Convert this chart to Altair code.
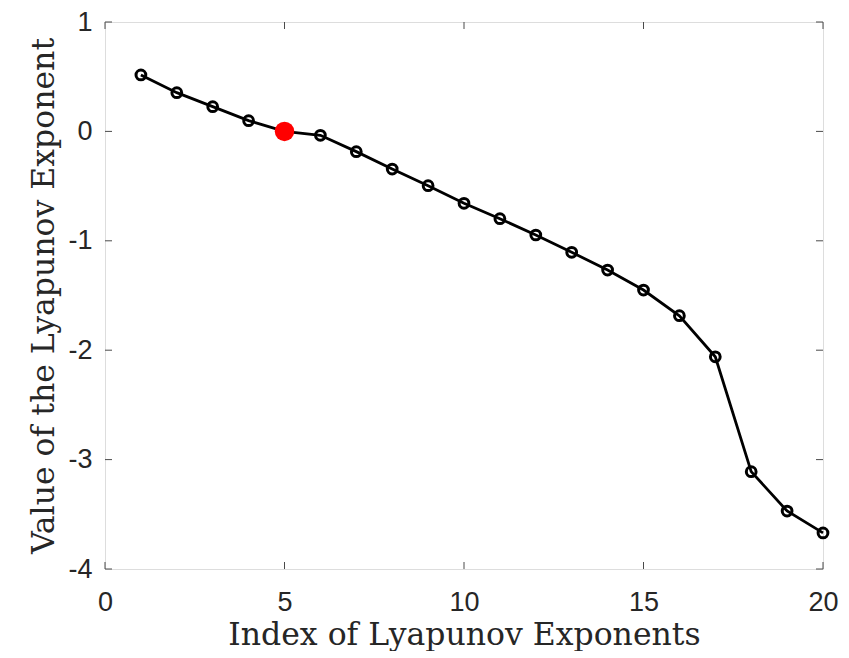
import altair as alt
import pandas as pd

idx = list(range(1, 21))
vals = [0.516, 0.354, 0.226, 0.098, 0.0, -0.036, -0.185, -0.344, -0.496, -0.657,
        -0.798, -0.947, -1.105, -1.267, -1.45, -1.685, -2.06, -3.11, -3.47, -3.67]
highlight_idx = [5]
x_ticks = [0, 5, 10, 15, 20]
y_ticks = [-4, -3, -2, -1, 0, 1]

W, H = 718, 547
df = pd.DataFrame({"x": idx, "y": vals})
hl = df[df["x"].isin(highlight_idx)]
xt = pd.DataFrame({"x": x_ticks})
yt = pd.DataFrame({"y": y_ticks})

XT = "Index of Lyapunov Exponents"
YT = "Value of the Lyapunov Exponent"
xs = alt.Scale(domain=[0, 20], nice=False, zero=False)
ys = alt.Scale(domain=[-4, 1], nice=False, zero=False)

label_font = "Liberation Sans"
title_font = "DejaVu Serif"
frame = "#4a4a4a"

xaxis = alt.Axis(values=x_ticks, grid=False, domain=False, tickSize=0, labelPadding=20,
                 labelExpr="'' + datum.value", labelFlush=False,
                 labelFont=label_font, labelFontSize=27, labelColor="#262626",
                 titleFont=title_font, titleFontSize=31.5, titleFontWeight="normal",
                 titleColor="#262626", titlePadding=4)
yaxis = alt.Axis(values=y_ticks, grid=False, domain=False, tickSize=0, labelPadding=13,
                 labelExpr="'' + datum.value", labelFlush=False,
                 labelFont=label_font, labelFontSize=27, labelColor="#262626",
                 titleFont=title_font, titleFontSize=31.5, titleFontWeight="normal",
                 titleColor="#262626", titlePadding=7)

X = alt.X("x:Q", scale=xs, axis=xaxis, title=XT)
Y = alt.Y("y:Q", scale=ys, axis=yaxis, title=YT)

base = alt.Chart(df)
line = base.mark_line(color="black", strokeWidth=2.8).encode(x=X, y=Y)
pts = base.mark_point(shape="circle", filled=False, color="black", strokeWidth=3,
                      size=95, opacity=1).encode(x=X, y=Y)
red = alt.Chart(hl).mark_point(shape="circle", filled=True, color="#ff0000",
                               size=380, opacity=1).encode(x=X, y=Y)

tick_len = 7
bt = alt.Chart(xt).mark_rule(color=frame, strokeWidth=1).encode(
    x=X, y=alt.value(H), y2=alt.value(H - tick_len))
tt = alt.Chart(xt).mark_rule(color=frame, strokeWidth=1).encode(
    x=X, y=alt.value(0), y2=alt.value(tick_len))
lt = alt.Chart(yt).mark_rule(color=frame, strokeWidth=1).encode(
    y=Y, x=alt.value(0), x2=alt.value(tick_len))
rt = alt.Chart(yt).mark_rule(color=frame, strokeWidth=1).encode(
    y=Y, x=alt.value(W), x2=alt.value(W - tick_len))

chart = alt.layer(bt, tt, lt, rt, line, pts, red).properties(
    width=W, height=H,
    autosize=alt.AutoSizeParams(type="none"),
    padding={"left": 97, "top": 14, "right": 16, "bottom": 82},
).configure_view(stroke=frame, strokeWidth=1.2).configure(background="white")

chart.save("out.html", embed_options={"renderer": "svg", "actions": False})
